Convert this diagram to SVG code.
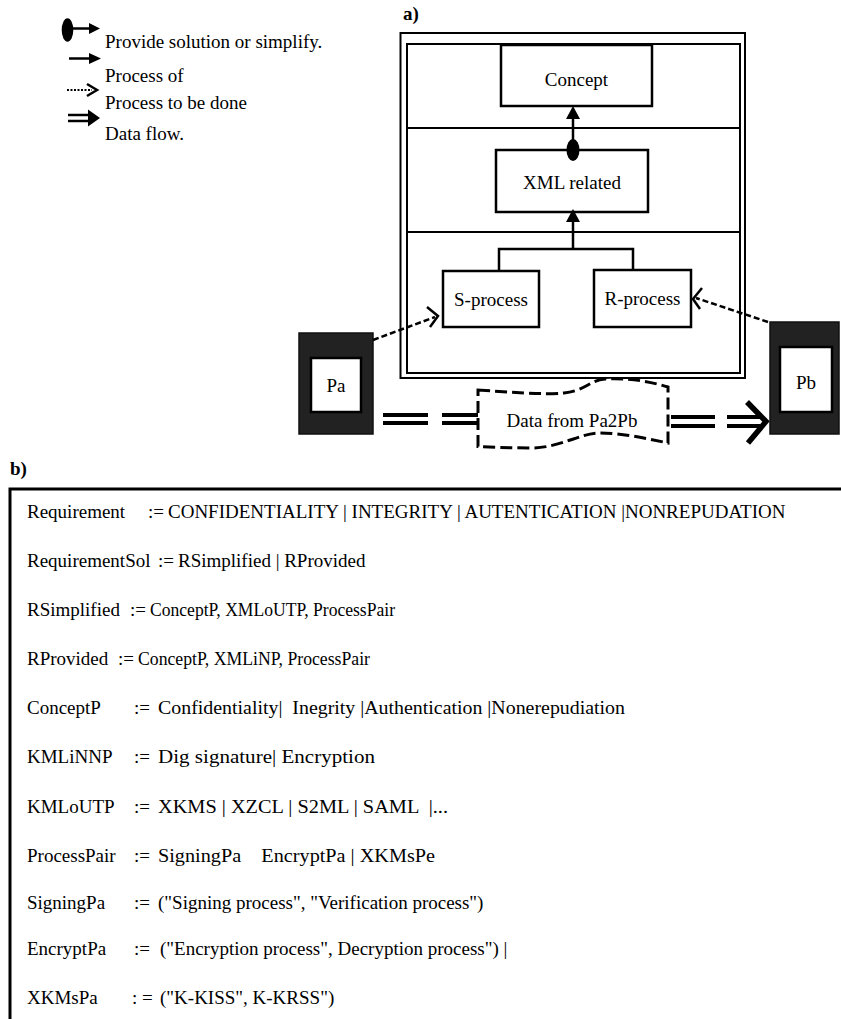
<svg xmlns="http://www.w3.org/2000/svg" width="841" height="1019" viewBox="0 0 841 1019">
  <style>
    text { font-family: "Liberation Serif", "Times New Roman", serif; font-size: 19px; fill: #000; white-space: pre; }
    .lbl { font-weight: bold; }
    .c { text-anchor: middle; }
    .box { fill: #fff; stroke: #000; stroke-width: 2.5; }
    .frame { fill: none; stroke: #000; stroke-width: 2; }
    .div { stroke: #000; stroke-width: 2; }
    .party { fill: #222; stroke: #111; stroke-width: 1.5; }
    .slot { fill: #fff; stroke: #000; stroke-width: 2.5; }
    .solid { stroke: #000; stroke-width: 2.5; fill: none; }
    .dash { stroke: #000; stroke-width: 2.5; stroke-dasharray: 6 3; fill: none; }
    .dots { stroke: #000; stroke-width: 2; stroke-dasharray: 2 1.5; fill: none; }
    .chev { stroke: #000; stroke-width: 2.5; fill: none; stroke-linejoin: miter; }
    .head { fill: #000; }
    .flow { stroke: #000; stroke-width: 4; }
    .flowhead { stroke: #000; stroke-width: 5.5; fill: none; stroke-linejoin: miter; stroke-miterlimit: 10; }
    .tape { fill: #fff; stroke: #000; stroke-width: 3; stroke-dasharray: 12 5; }
    .sheet { fill: none; stroke: #000; stroke-width: 3; }
  </style>

  <!-- legend -->
  <g id="legend">
    <ellipse class="head" cx="67.5" cy="30" rx="5.8" ry="11.7"/>
    <line class="solid" x1="73" y1="28.5" x2="90" y2="28.5"/>
    <polygon class="head" points="89,23 100,28.5 89,34"/>
    <text x="105" y="48">Provide solution or simplify.</text>

    <line class="solid" x1="69" y1="58.5" x2="90" y2="58.5"/>
    <polygon class="head" points="89,53 101,58.5 89,64"/>
    <text x="105" y="82">Process of</text>

    <line class="dots" x1="67" y1="90" x2="92" y2="90"/>
    <polyline class="chev" stroke-width="2" points="87,84 97,90 87,96"/>
    <text x="105" y="109">Process to be done</text>

    <line class="solid" x1="68" y1="115" x2="90" y2="115"/>
    <line class="solid" x1="68" y1="121" x2="90" y2="121"/>
    <polygon class="head" points="88,109.5 100,118 88,126.5"/>
    <text x="105" y="140">Data flow.</text>
  </g>

  <!-- part a: layered container -->
  <g id="panel-a">
    <text class="lbl" x="403" y="20">a)</text>
    <rect class="frame" x="400.5" y="33" width="344.5" height="345"/>
    <rect class="frame" x="407" y="44" width="333" height="329" stroke-width="2.5"/>
    <line class="div" x1="407" y1="128" x2="740" y2="128"/>
    <line class="div" x1="407" y1="232" x2="740" y2="232"/>
  </g>

  <g id="concept">
    <rect class="box" x="501" y="45" width="151" height="61"/>
    <text class="c" x="576.5" y="86">Concept</text>
  </g>

  <g id="xml-related">
    <rect class="box" x="496" y="150" width="152" height="62"/>
    <text class="c" x="572" y="189">XML related</text>
  </g>

  <g id="s-process">
    <rect class="box" x="443" y="271" width="96" height="56"/>
    <text class="c" x="491" y="306">S-process</text>
  </g>

  <g id="r-process">
    <rect class="box" x="594" y="270" width="97" height="57"/>
    <text class="c" x="642.5" y="305">R-process</text>
  </g>

  <g id="pa">
    <rect class="party" x="299" y="333" width="74" height="101"/>
    <rect class="slot" x="311" y="358" width="50" height="54"/>
    <text class="c" x="336" y="392">Pa</text>
  </g>

  <g id="pb">
    <rect class="party" x="770" y="322" width="69" height="112"/>
    <rect class="slot" x="780" y="347" width="52" height="65"/>
    <text class="c" x="806" y="389">Pb</text>
  </g>

  <g id="data-tape">
    <path class="tape" d="M478,390 C510,392 540,395 564,393 C585,391 590,380 605,379 C625,378 645,380 668,387 L668,443 C645,438 620,433 600,433 C580,433 560,448 531,448 C510,448 490,447 478,446.5 Z"/>
    <text class="c" x="572" y="427">Data from Pa2Pb</text>
  </g>

  <!-- connectors -->
  <g id="connectors">
    <!-- XML related provides Concept -->
    <line class="solid" x1="573" y1="140" x2="573" y2="117"/>
    <polygon class="head" points="566,119 573,106 580,119"/>
    <ellipse class="head" cx="573" cy="150" rx="6.5" ry="11"/>

    <!-- S-process / R-process into XML related -->
    <polyline class="solid" points="499,271 499,249 633,249 633,270"/>
    <line class="solid" x1="573" y1="249" x2="573" y2="219"/>
    <polygon class="head" points="566,222 573,209 580,222"/>

    <!-- Pa to S-process (pending) -->
    <line class="dash" x1="373" y1="340" x2="435" y2="317"/>
    <polyline class="chev" points="427,307 438,316 430,327"/>

    <!-- Pb to R-process (pending) -->
    <line class="dash" x1="768" y1="322" x2="696" y2="298"/>
    <polyline class="chev" points="702,288 693,299 700,309"/>

    <!-- data flow Pa to Pb -->
    <line class="flow" x1="383" y1="415" x2="428" y2="415"/>
    <line class="flow" x1="383" y1="423" x2="428" y2="423"/>
    <line class="flow" x1="442" y1="415" x2="478" y2="415"/>
    <line class="flow" x1="442" y1="423" x2="478" y2="423"/>
    <line class="flow" x1="671" y1="417" x2="715" y2="417"/>
    <line class="flow" x1="671" y1="426" x2="715" y2="426"/>
    <line class="flow" x1="727" y1="417" x2="760" y2="417"/>
    <line class="flow" x1="727" y1="426" x2="760" y2="426"/>
    <polyline class="flowhead" points="747,402 766,421.5 748,443"/>
  </g>

  <!-- part b: grammar of requirements -->
  <g id="panel-b">
    <text class="lbl" x="10" y="475">b)</text>
    <rect class="sheet" x="10" y="489" width="860" height="560"/>

    <text x="27" y="518">Requirement</text>
    <text x="148" y="518">:=</text>
    <text x="168" y="518">CONFIDENTIALITY | INTEGRITY | AUTENTICATION |NONREPUDATION</text>

    <text x="27" y="567">RequirementSol</text>
    <text x="158" y="567">:=</text>
    <text x="178" y="567">RSimplified | RProvided</text>

    <text x="27" y="616">RSimplified</text>
    <text x="130" y="616">:=</text>
    <text x="150" y="616" textLength="245" lengthAdjust="spacingAndGlyphs">ConceptP, XMLoUTP, ProcessPair</text>

    <text x="27" y="665">RProvided</text>
    <text x="118" y="665">:=</text>
    <text x="138" y="665" textLength="232" lengthAdjust="spacingAndGlyphs">ConceptP, XMLiNP, ProcessPair</text>

    <text x="27" y="714">ConceptP</text>
    <text x="134" y="714">:=</text>
    <text x="158" y="714" textLength="467" lengthAdjust="spacingAndGlyphs">Confidentiality|  Inegrity |Authentication |Nonerepudiation</text>

    <text x="27" y="763">KMLiNNP</text>
    <text x="134" y="763">:=</text>
    <text x="158" y="763" textLength="217" lengthAdjust="spacingAndGlyphs">Dig signature| Encryption</text>

    <text x="27" y="813">KMLoUTP</text>
    <text x="134" y="813">:=</text>
    <text x="158" y="813" textLength="290" lengthAdjust="spacingAndGlyphs">XKMS | XZCL | S2ML | SAML  |...</text>

    <text x="27" y="862">ProcessPair</text>
    <text x="134" y="862">:=</text>
    <text x="158" y="862" textLength="277" lengthAdjust="spacingAndGlyphs">SigningPa    EncryptPa | XKMsPe</text>

    <text x="27" y="909">SigningPa</text>
    <text x="134" y="909">:=</text>
    <text x="158" y="909">("Signing process", "Verification process")</text>

    <text x="27" y="955">EncryptPa</text>
    <text x="134" y="955">:=</text>
    <text x="160" y="955">("Encryption process", Decryption process") |</text>

    <text x="27" y="1004">XKMsPa</text>
    <text x="132" y="1004">: =</text>
    <text x="160" y="1004">("K-KISS", K-KRSS")</text>
  </g>
</svg>
